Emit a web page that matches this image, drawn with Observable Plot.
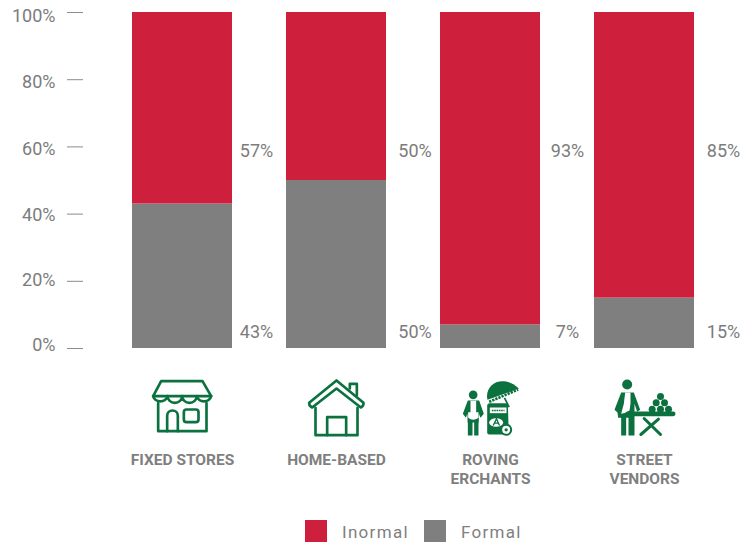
<!DOCTYPE html>
<html>
<head>
<meta charset="utf-8">
<script src="https://cdn.jsdelivr.net/npm/d3@7"></script>
<script src="https://cdn.jsdelivr.net/npm/@observablehq/plot@0.6"></script>
<style>
html,body{margin:0;padding:0;background:#fff}
svg{display:block}
#legend{position:relative;height:28px;font:17px Roboto,sans-serif;color:#7f7f7f;letter-spacing:1.3px}
#legend i{position:absolute;top:4px;width:22px;height:22px}
#legend span{position:absolute;top:4px;line-height:24px}
</style>
</head>
<body>
<div id="chart"></div>
<div id="legend"></div>
<script>
const categories = ["FIXED STORES", "HOME-BASED", "ROVING\nERCHANTS", "STREET\nVENDORS"];
const formal = [43, 50, 7, 15];
const informal = [57, 50, 93, 85];
const seriesNames = ["Formal", "Inormal"];
const tickValues = [100, 80, 60, 40, 20, 0];

const RED = "#ce1f3c", GREY = "#7f7f7f", GREEN = "#0b713f", TEXT = "#7c7c7c";

const rows = [];
categories.forEach((c, i) => {
  rows.push({category: c, series: seriesNames[0], value: formal[i]});
  rows.push({category: c, series: seriesNames[1], value: informal[i]});
});

const wrap = (x0, y0, body) => "data:image/svg+xml," + encodeURIComponent(
  `<svg xmlns="http://www.w3.org/2000/svg" width="70" height="64" viewBox="${x0} ${y0} 210 192">${body}</svg>`);

const iconStore = wrap(81, 48, `<g fill="none" stroke="${GREEN}" stroke-width="8" stroke-linejoin="round" stroke-linecap="round">
<path d="M122 62H246L272 107H98Z"/>
<path d="M98 107a22 20 0 0 0 43 0a22 20 0 0 0 44 0a22 20 0 0 0 44 0a22 20 0 0 0 43 0"/>
<path d="M113 128V212H258V128"/>
<path d="M140 212V166a16 16 0 0 1 32 0V212"/>
<rect x="190" y="147" width="44" height="38" rx="8"/></g>`);

const iconHouse = wrap(543, 48, `<g fill="none" stroke="${GREEN}" stroke-width="8" stroke-linejoin="round" stroke-linecap="round">
<path d="M648 60L729 127Q730 136 721 141L648 84L575 141Q565 136 566 127Z"/>
<path d="M688 84V70H709V104"/>
<path d="M585 142V224H711V142"/>
<path d="M620 224V170H677V224"/></g>`);

const iconRoving = wrap(75, 48, `<g fill="${GREEN}">
<circle cx="128" cy="103" r="13"/>
<path d="M112 120H146L160 160L150 172L145 160V186H144V225H131V186H126V225H112V186H111V160L106 172L97 160Z"/>
<path d="M120 121H137V155H144V172Q128 184 113 172V155H120Z" fill="#fff"/>
<path d="M171 118C160 72 215 38 265 84Z"/>
<path d="M176 124L263 87" stroke="${GREEN}" stroke-width="8" stroke-dasharray="7 3" fill="none"/>
<path d="M222 112L236 140" stroke="${GREEN}" stroke-width="5" fill="none"/>
<path d="M178 128L232 128L234 195L222 222H176Q170 222 170 215V136Q170 128 178 128Z"/>
<rect x="178" y="141" width="50" height="17" fill="#fff"/>
<path d="M184 150h38" stroke="${GREEN}" stroke-width="5" stroke-dasharray="5 2" fill="none"/>
<ellipse cx="197" cy="186" rx="21" ry="13" fill="#fff"/>
<path d="M188 195L198 175L207 195M192 188H204" stroke="${GREEN}" stroke-width="4" fill="none"/>
<circle cx="227" cy="208" r="18"/>
<circle cx="227" cy="208" r="12" fill="#fff"/>
<circle cx="227" cy="208" r="5"/></g>`);

const iconStreet = wrap(537, 48, `<g fill="${GREEN}">
<circle cx="590" cy="72" r="15"/>
<path d="M572 96H610L629 148L620 154L612 130V225H594V172H587V225H572V172H563L561 156L552 148Z"/>
<path d="M584 96H600V130L597 150Q585 158 572 160L580 130Z" fill="#fff"/>
<g stroke="${GREEN}" stroke-linecap="round" fill="none">
<path d="M593 160H728" stroke-width="14"/>
<path d="M641 174L690 222M684 176L631 222" stroke-width="9"/></g>
<circle cx="665" cy="146" r="10.5"/><circle cx="690" cy="146" r="10.5"/><circle cx="714" cy="146" r="10.5"/>
<circle cx="677" cy="127" r="10.5"/><circle cx="702" cy="127" r="10.5"/>
<circle cx="690" cy="108" r="10.5"/></g>`);
const icons = [iconStore, iconHouse, iconRoving, iconStreet];

const FONT = "Roboto, sans-serif";
const valueDx = [74, 78.5, 77, 79];
const tickLabelDy = [4, 3, 2, 1, -1, -3];

const valueTextMarks = categories.flatMap((c, i) => [
  Plot.text([informal[i] + "%"], {x: () => c, y: () => 58.8, dx: valueDx[i], fill: TEXT, fontSize: 18, fontFamily: FONT}),
  Plot.text([formal[i] + "%"], {x: () => c, y: () => 4.8, dx: valueDx[i], fill: TEXT, fontSize: 18, fontFamily: FONT})
]);

const tickTextMarks = tickValues.map((t, i) =>
  Plot.text([t], {x: () => categories[0], y: d => d, text: d => d + "%", textAnchor: "end", dx: -127, dy: tickLabelDy[i], fill: TEXT, fontSize: 18, fontFamily: FONT}));

const plot = Plot.plot({
  width: 751,
  height: 516,
  marginTop: 0, marginBottom: 0, marginLeft: 83, marginRight: 0,
  style: {background: "#fff", fontFamily: FONT},
  x: {domain: categories, range: [78.1, 748], padding: 0.35, axis: null},
  y: {domain: [0, 100], range: [348, 12], axis: null},
  color: {domain: seriesNames, range: [GREY, RED]},
  marks: [
    Plot.axisY(tickValues, {anchor: "left", tickSize: 16, tickFormat: () => "", label: null, stroke: "#8c8c8c"}),
    ...tickTextMarks,
    Plot.barY(rows, {x: "category", y: "value", fill: "series", order: seriesNames}),
    ...valueTextMarks,
    Plot.image(categories, {x: d => d, src: (d, i) => icons[i], width: 70, height: 64, frameAnchor: "top", dy: 408}),
    Plot.text(categories, {x: d => d, text: d => d, frameAnchor: "top", lineAnchor: "top", dy: 451, lineHeight: 1.24, fill: GREY, fontSize: 15.5, fontWeight: 700, fontFamily: FONT, style: "letter-spacing:.7px"})
  ]
});
document.getElementById("chart").append(plot);

const legend = document.getElementById("legend");
[[RED, seriesNames[1], 305, 342], [GREY, seriesNames[0], 424, 461]].forEach(([c, t, a, b]) => {
  const sw = document.createElement("i");
  sw.style.cssText = `left:${a}px;background:${c}`;
  const s = document.createElement("span");
  s.style.left = b + "px";
  s.textContent = t;
  legend.append(sw, s);
});
</script>
</body>
</html>
